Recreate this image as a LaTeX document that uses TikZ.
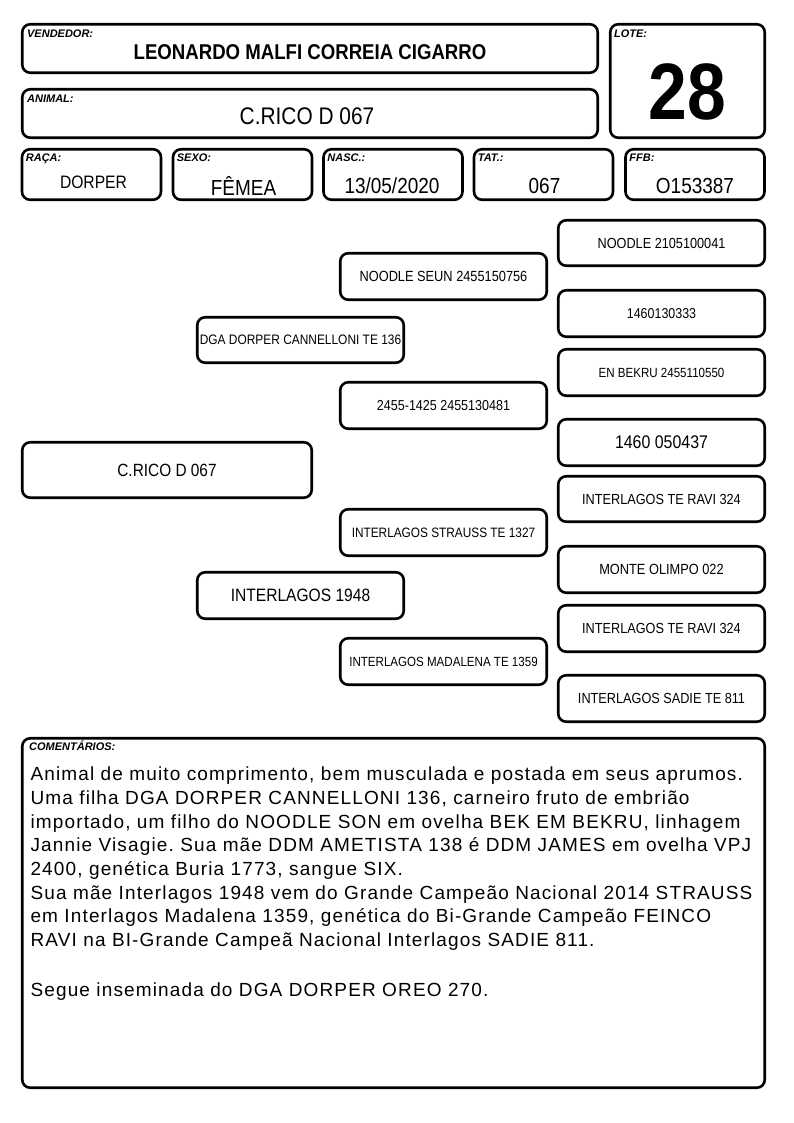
\documentclass[tikz,border=0pt]{standalone}
\usepackage{fontspec}
\setmainfont{Liberation Sans}
\newfontfamily\tallfont{Liberation Sans}[FakeStretch=0.87]
\newfontfamily\comfont{Liberation Sans}[LetterSpace=6]
\frenchspacing
\begin{document}
\begin{tikzpicture}[x=1pt, y=-1pt,
  box/.style={draw, line width=2.6pt, rounded corners=8pt, inner sep=0pt},
  tag/.style={anchor=base west, inner sep=0pt, font=\bfseries\itshape\fontsize{11}{12}\selectfont},
  val/.style={inner sep=0pt, font=\tallfont\fontsize{21.8}{21.8}\selectfont},
  fs/.style={font=\tallfont\fontsize{#1}{#1}\selectfont}]
\useasboundingbox (0,0) rectangle (794,1123);
% header
\node[box, minimum width=575.5, minimum height=48.5] (vend) at (310,48.5) {};
\node[tag] (vendtag) at ([shift={(6,15)}]vend.north west) {VENDEDOR:};
\node[val, font=\tallfont\bfseries\fontsize{21.4}{21.4}\selectfont] (vendval) at ([shift={(0,4)}]vend.center) {LEONARDO MALFI CORREIA CIGARRO};
\node[box, minimum width=575.5, minimum height=48.5] (anim) at (310,113.5) {};
\node[tag] (animtag) at ([shift={(6,15)}]anim.north west) {ANIMAL:};
\node[val, font=\tallfont\fontsize{24}{24}\selectfont] (animval) at ([shift={(-3,2.5)}]anim.center) {C.RICO D 067};
\node[box, minimum width=154.5, minimum height=113.5] (lote) at (687.5,81) {};
\node[tag] (lotetag) at ([shift={(5,15)}]lote.north west) {LOTE:};
\node[val, font=\tallfont\bfseries\fontsize{80}{80}\selectfont] (loteval) at ([shift={(0,10.5)}]lote.center) {28};
% data row
\node[box, minimum width=139, minimum height=50.5] (raca) at (91.5,174.5) {};
\node[box, minimum width=139, minimum height=50.5] (sexo) at (242.5,174.5) {};
\node[box, minimum width=139, minimum height=50.5] (nasc) at (393,174.5) {};
\node[box, minimum width=139, minimum height=50.5] (tat) at (543.5,174.5) {};
\node[box, minimum width=139, minimum height=50.5] (ffb) at (695,174.5) {};
\node[tag] (racatag) at ([shift={(5,14)}]raca.north west) {RAÇA:};
\node[tag] (sexotag) at ([shift={(5,14)}]sexo.north west) {SEXO:};
\node[tag] (nasctag) at ([shift={(5,14)}]nasc.north west) {NASC.:};
\node[tag] (tattag) at ([shift={(5,14)}]tat.north west) {TAT.:};
\node[tag] (ffbtag) at ([shift={(5,14)}]ffb.north west) {FFB:};
\node[val, font=\tallfont\fontsize{18}{18}\selectfont] (racaval) at ([shift={(2,7.5)}]raca.center) {DORPER};
\node[val] (sexoval) at ([shift={(1,11.5)}]sexo.center) {FÊMEA};
\node[val] (nascval) at ([shift={(-1,11.5)}]nasc.center) {13/05/2020};
\node[val] (tatval) at ([shift={(1,11.5)}]tat.center) {067};
\node[val] (ffbval) at ([shift={(0,11.5)}]ffb.center) {O153387};
% pedigree
\node[box, fs=17.7, minimum width=289.5, minimum height=55.5] (self) at (167,470) {C.RICO D 067};
\node[box, fs=13.7, minimum width=206.5, minimum height=45.5] (sire) at (300.5,340) {DGA DORPER CANNELLONI TE 136};
\node[box, fs=17.9, minimum width=206.5, minimum height=46.5] (dam) at (300.5,595.5) {INTERLAGOS 1948};
\node[box, fs=14.7, minimum width=206.5, minimum height=46.5] (ss) at (443.5,276.5) {NOODLE SEUN 2455150756};
\node[box, fs=14.4, minimum width=206.5, minimum height=46.5] (sd) at (443.5,405.5) {2455-1425 2455130481};
\node[box, fs=13.6, minimum width=206.5, minimum height=46.5] (ds) at (443.5,532.5) {INTERLAGOS STRAUSS TE 1327};
\node[box, fs=13.3, minimum width=206.5, minimum height=46.5] (dd) at (443.5,661.5) {INTERLAGOS MADALENA TE 1359};
\node[box, fs=14.6, minimum width=206.5, minimum height=45.5] (sss) at (661.5,243) {NOODLE 2105100041};
\node[box, fs=14.3, minimum width=206.5, minimum height=46.5] (ssd) at (661.5,313.5) {1460130333};
\node[box, fs=13.3, minimum width=206.5, minimum height=46.5] (sds) at (661.5,372.5) {EN BEKRU 2455110550};
\node[box, fs=18.3, minimum width=206.5, minimum height=46.5] (sdd) at (661.5,442.5) {1460 050437};
\node[box, fs=14.6, minimum width=206.5, minimum height=45.5] (dss) at (661.5,499) {INTERLAGOS TE RAVI 324};
\node[box, fs=14.7, minimum width=206.5, minimum height=46.5] (dsd) at (661.5,569.5) {MONTE OLIMPO 022};
\node[box, fs=14.6, minimum width=206.5, minimum height=46.5] (dds) at (661.5,628.5) {INTERLAGOS TE RAVI 324};
\node[box, fs=14.6, minimum width=206.5, minimum height=46.5] (ddd) at (661.5,698.5) {INTERLAGOS SADIE TE 811};
% comments
\node[box, minimum width=742.5, minimum height=349.5] (com) at (393.5,913) {};
\node[tag] (comtag) at ([shift={(8,14)}]com.north west) {COMENTÁRIOS:};
\node[anchor=north west, inner sep=0pt, align=left, font=\comfont\fontsize{19}{23.7}\selectfont] (comtxt) at ([shift={(9.4,29.8)}]com.north west)
{Animal de muito comprimento, bem musculada e postada em seus aprumos.\\
Uma filha DGA DORPER CANNELLONI 136, carneiro fruto de embrião\\
importado, um filho do NOODLE SON em ovelha BEK EM BEKRU, linhagem\\
Jannie Visagie. Sua mãe DDM AMETISTA 138 é DDM JAMES em ovelha VPJ\\
2400, genética Buria 1773, sangue SIX.\\
Sua mãe Interlagos 1948 vem do Grande Campeão Nacional 2014 STRAUSS\\
em Interlagos Madalena 1359, genética do Bi-Grande Campeão FEINCO\\
RAVI na BI-Grande Campeã Nacional Interlagos SADIE 811.\\[26pt]
Segue inseminada do DGA DORPER OREO 270.};
\end{tikzpicture}
\end{document}
